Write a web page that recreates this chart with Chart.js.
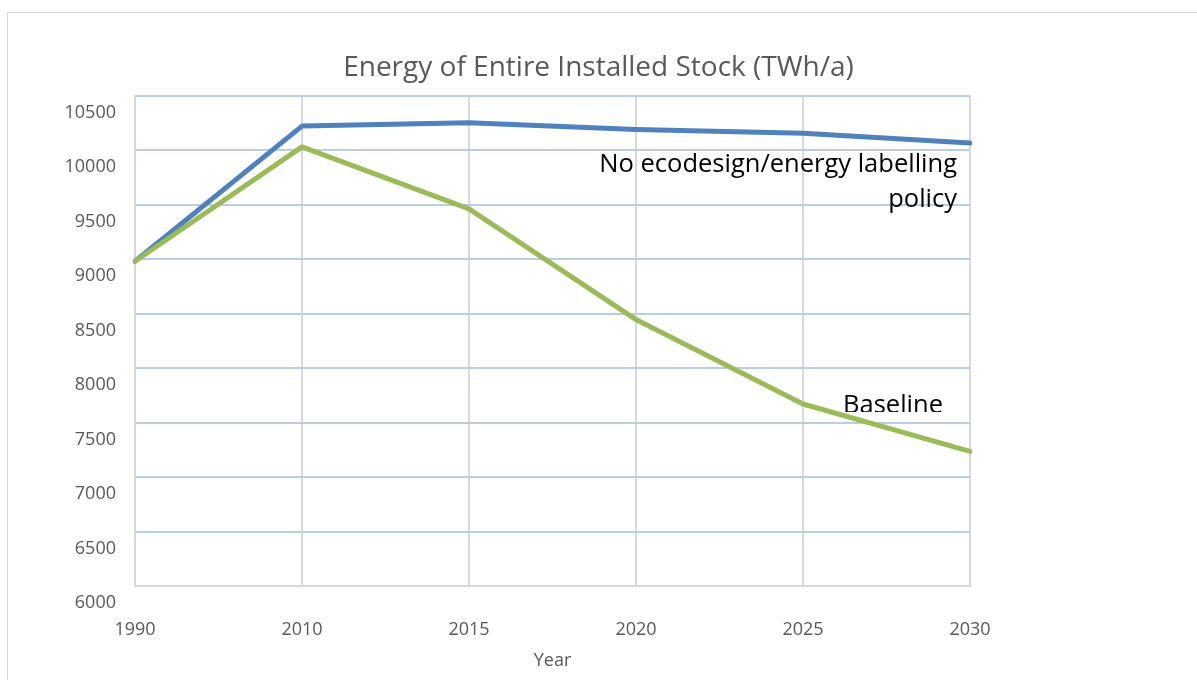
<!DOCTYPE html>
<html>
<head>
<meta charset="utf-8">
<script src="https://cdn.jsdelivr.net/npm/chart.js@4/dist/chart.umd.min.js"></script>
<style>
  html, body { margin: 0; padding: 0; background: #fff; }
  #wrap { position: relative; width: 1197px; height: 680px; }
</style>
</head>
<body>
<div id="wrap"><canvas id="energyChart" width="1197" height="680"></canvas></div>
<script>
// years on the x axis
const years = ['1990', '2010', '2015', '2020', '2025', '2030'];

// TWh/a
const noPolicy = [8980, 10220, 10250, 10190, 10155, 10065];
const baseline = [8980, 10030, 9460, 8445, 7670, 7235];

const yMin = 6000;
const yMax = 10500;
const yStep = 500;

const fontFamily = '"Open Sans", "Noto Sans", sans-serif';
const greyText = '#595959';

// frame around the chart + the two line labels
const extras = {
  id: 'extras',
  beforeDraw(chart) {
    const ctx = chart.ctx;
    ctx.save();
    ctx.strokeStyle = '#d9d9d9';
    ctx.lineWidth = 1;
    ctx.strokeRect(7.5, 12.5, 1400, 900);
    ctx.restore();
  },
  afterDatasetsDraw(chart) {
    const ctx = chart.ctx;
    const x = chart.scales.x;
    const right = x.getPixelForValue(5) - 13;

    ctx.save();
    ctx.fillStyle = '#000';
    ctx.font = '25.5px ' + fontFamily;
    ctx.textBaseline = 'middle';
    ctx.textAlign = 'right';
    ctx.fillText('No ecodesign/energy labelling', right, 165);
    ctx.fillText('policy', right, 200);

    // baseline label is cut off in the original
    ctx.beginPath();
    ctx.rect(x.getPixelForValue(4), 380, 200, 32);
    ctx.clip();
    ctx.textAlign = 'center';
    ctx.fillText('Baseline', x.getPixelForValue(4) + 90, 406);
    ctx.restore();
  }
};

new Chart(document.getElementById('energyChart'), {
  type: 'line',
  data: {
    labels: years,
    datasets: [
      {
        label: 'No ecodesign/energy labelling policy',
        data: noPolicy,
        borderColor: '#4f81bd',
        borderWidth: 5,
        pointRadius: 0,
        tension: 0,
        borderCapStyle: 'round',
        borderJoinStyle: 'round',
        order: 1
      },
      {
        label: 'Baseline',
        data: baseline,
        borderColor: '#9bbb59',
        borderWidth: 5,
        pointRadius: 0,
        tension: 0,
        borderCapStyle: 'round',
        borderJoinStyle: 'round',
        order: 0
      }
    ]
  },
  options: {
    responsive: false,
    animation: false,
    layout: {
      padding: 0
    },
    plugins: {
      legend: { display: false },
      tooltip: { enabled: false },
      title: {
        display: true,
        text: 'Energy of Entire Installed Stock (TWh/a)',
        color: greyText,
        font: { family: fontFamily, size: 28, weight: 'normal', lineHeight: 1.2 },
        padding: { top: 51, bottom: 11 }
      }
    },
    scales: {
      x: {
        offset: false,
        grid: {
          color: '#d9d9d9',
          lineWidth: 2,
          drawTicks: false
        },
        border: { color: '#d9d9d9', width: 2 },
        ticks: {
          color: greyText,
          font: { family: fontFamily, size: 18 },
          padding: 33,
          maxRotation: 0,
          autoSkip: false
        },
        title: {
          display: true,
          text: 'Year',
          color: greyText,
          font: { family: fontFamily, size: 18 },
          padding: { top: 0, bottom: 8 }
        },
        afterFit(scale) { scale.height = 94; }
      },
      y: {
        min: yMin,
        max: yMax,
        grid: {
          color: (c) => (c.tick && c.tick.value === yMin ? '#d9d9d9' : '#b9cde5'),
          lineWidth: 2,
          drawTicks: false
        },
        border: { color: '#d9d9d9', width: 2 },
        ticks: {
          stepSize: yStep,
          color: greyText,
          font: { family: fontFamily, size: 18 },
          padding: 19,
          labelOffset: 17,
          callback: (v) => String(v)
        },
        afterFit(scale) { scale.width = 135; }
      },
      // empty space on the right so the title stays centred on the whole frame
      spacer: {
        position: 'right',
        min: yMin,
        max: yMax,
        grid: { display: false },
        border: { display: false },
        ticks: { display: false },
        afterFit(scale) { scale.width = 227; }
      }
    }
  },
  plugins: [extras]
});
</script>
</body>
</html>
